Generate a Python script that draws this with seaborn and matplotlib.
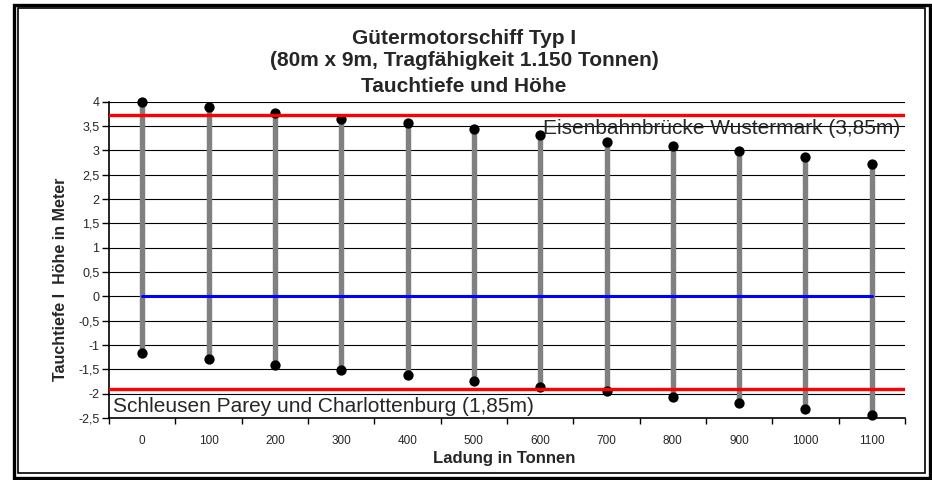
import numpy as np
import pandas as pd
import matplotlib
matplotlib.use("Agg")
import matplotlib.pyplot as plt
import matplotlib.ticker as mticker
from matplotlib.patches import Rectangle
import seaborn as sns

# Daten
ladung = ["0", "100", "200", "300", "400", "500", "600", "700", "800", "900", "1000", "1100"]
hoehe = [4.00, 3.89, 3.77, 3.65, 3.56, 3.44, 3.32, 3.18, 3.08, 2.98, 2.86, 2.73]
tauchtiefe = [-1.17, -1.28, -1.41, -1.51, -1.61, -1.73, -1.86, -1.94, -2.07, -2.19, -2.32, -2.44]
wasserlinie = [0.0] * len(ladung)
bruecke = 3.72
schleuse = -1.90

sns.set_theme(style="white")
plt.rcParams["font.family"] = ["Liberation Sans", "DejaVu Sans"]

df = pd.DataFrame({"Ladung": ladung, "Hoehe": hoehe, "Tauchtiefe": tauchtiefe, "Null": wasserlinie})
pos = np.arange(len(ladung))

fig = plt.figure(figsize=(9.32, 4.8), dpi=100)
ax = fig.add_axes([109 / 932, 1 - 418 / 480, 796 / 932, (418 - 101.7) / 480])

# Rahmen um das Diagramm (doppelte Linie)
fig.patches.append(Rectangle((13.5 / 932, 1 - 478 / 480), (930 - 13.5) / 932, (478 - 4.5) / 480,
                             transform=fig.transFigure, fill=False, edgecolor="black", linewidth=2.4))
fig.patches.append(Rectangle((18 / 932, 1 - 473 / 480), (925 - 18) / 932, (473 - 8) / 480,
                             transform=fig.transFigure, fill=False, edgecolor="black", linewidth=1.2))

# Gitterlinien
for yv in np.arange(-2.0, 4.01, 0.5):
    ax.axhline(yv, color="black", linewidth=0.8, zorder=1)

# graue Balken von Tauchtiefe bis Höhe
ax.vlines(pos, df["Tauchtiefe"], df["Hoehe"], color="#808080", linewidth=3.9, zorder=2)

# Wasserlinie
sns.lineplot(x=pos, y=df["Null"], color="#0000FF", linewidth=2.2, ax=ax, zorder=3)

# Punkte
for col in ["Hoehe", "Tauchtiefe"]:
    sns.scatterplot(x=pos, y=df[col], color="black", s=55, linewidth=0, ax=ax, zorder=4, clip_on=False)

# Grenzwerte
ax.axhline(bruecke, color="#FF0000", linewidth=2.4, zorder=5)
ax.axhline(schleuse, color="#FF0000", linewidth=2.4, zorder=5)

ax.text(11.43, 3.33, "Eisenbahnbrücke Wustermark (3,85m)", ha="right", va="baseline",
        fontsize=15, zorder=6)
ax.text(-0.44, -2.37, "Schleusen Parey und Charlottenburg (1,85m)", ha="left", va="baseline",
        fontsize=15, zorder=6)

ax.set_xlim(-0.5, len(ladung) - 0.5)
ax.set_ylim(-2.5, 4.0)
ax.set_xticks(pos)
ax.set_xticklabels(ladung)
ax.set_xticks(np.arange(-0.5, len(ladung), 1.0), minor=True)
ax.set_yticks(np.arange(-2.5, 4.01, 0.5))
ax.yaxis.set_major_formatter(mticker.FuncFormatter(lambda v, _: f"{v:g}".replace(".", ",")))
ax.tick_params(axis="x", which="major", length=0, pad=12, labelsize=8.5)
ax.tick_params(axis="x", which="minor", length=4, width=1, direction="out", color="black", bottom=True)
ax.tick_params(axis="y", which="major", length=5, width=1, direction="out", color="black", left=True,
               pad=2, labelsize=9)

for side in ["top", "right"]:
    ax.spines[side].set_visible(False)
for side in ["left", "bottom"]:
    ax.spines[side].set_color("black")
    ax.spines[side].set_linewidth(1.2)

ax.set_xlabel("Ladung in Tonnen", fontsize=12, fontweight="bold")
ax.set_ylabel("Tauchtiefe I  Höhe in Meter", fontsize=11.5, fontweight="bold")
ax.yaxis.set_label_coords(-0.051, 0.44)
ax.xaxis.set_label_coords(0.497, -0.105)

fig.text(464 / 932, 1 - 38 / 480, "Gütermotorschiff Typ I", ha="center", va="center",
         fontsize=15, fontweight="bold")
fig.text(464 / 932, 1 - 61 / 480, "(80m x 9m, Tragfähigkeit 1.150 Tonnen)", ha="center", va="center",
         fontsize=15, fontweight="bold")
fig.text(464 / 932, 1 - 86 / 480, "Tauchtiefe und Höhe", ha="center", va="center",
         fontsize=15, fontweight="bold")

fig.savefig("out.png", dpi=100)
